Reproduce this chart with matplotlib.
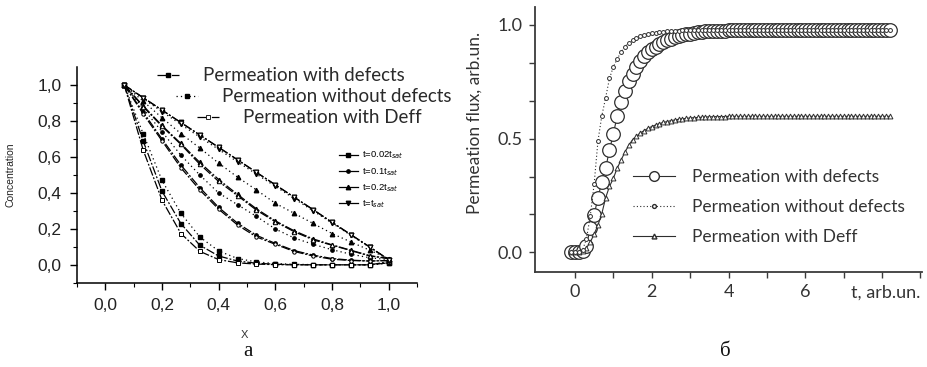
import matplotlib
matplotlib.use("Agg")
import matplotlib.pyplot as plt
from matplotlib.lines import Line2D
from matplotlib.legend import Legend

# ---------------- Left panel data (concentration profiles) ----------------
x_pos = [0.0667, 0.1333, 0.2, 0.2667, 0.3333, 0.4, 0.4667, 0.5333, 0.6, 0.6667,
         0.7333, 0.8, 0.8667, 0.9333, 1.0]

c002_def = [1.0, 0.69, 0.41, 0.23, 0.11, 0.05, 0.022, 0.010, 0.004, 0.002, 0.001, 0.001, 0.001, 0.001, 0.012]
c002_wo = [1.0, 0.73, 0.47, 0.287, 0.156, 0.078, 0.036, 0.017, 0.008, 0.004, 0.002, 0.001, 0.001, 0.001, 0.010]
c002_deff = [1.0, 0.64, 0.36, 0.175, 0.076, 0.030, 0.012, 0.005, 0.002, 0.001, 0.001, 0.001, 0.001, 0.001, 0.018]

c01_def = [1.0, 0.85, 0.70, 0.555, 0.43, 0.32, 0.232, 0.165, 0.12, 0.08, 0.055, 0.036, 0.027, 0.022, 0.025]
c01_wo = [1.0, 0.87, 0.74, 0.61, 0.50, 0.40, 0.335, 0.27, 0.20, 0.15, 0.115, 0.085, 0.06, 0.04, 0.03]
c01_deff = [1.0, 0.84, 0.69, 0.54, 0.417, 0.31, 0.222, 0.156, 0.115, 0.075, 0.05, 0.032, 0.025, 0.022, 0.025]

c02_def = [1.0, 0.885, 0.775, 0.675, 0.57, 0.475, 0.392, 0.312, 0.245, 0.19, 0.145, 0.112, 0.082, 0.052, 0.036]
c02_wo = [1.0, 0.91, 0.818, 0.73, 0.65, 0.566, 0.488, 0.417, 0.343, 0.287, 0.231, 0.175, 0.128, 0.082, 0.035]
c02_deff = [1.0, 0.88, 0.77, 0.67, 0.56, 0.464, 0.385, 0.305, 0.24, 0.185, 0.14, 0.11, 0.08, 0.05, 0.036]

csat_def = [1.0, 0.93, 0.861, 0.792, 0.723, 0.654, 0.585, 0.515, 0.446, 0.377, 0.308, 0.238, 0.169, 0.10, 0.03]
csat_wo = [1.0, 0.925, 0.852, 0.781, 0.711, 0.642, 0.573, 0.505, 0.437, 0.369, 0.301, 0.233, 0.165, 0.098, 0.03]
csat_deff = [1.0, 0.93, 0.860, 0.791, 0.722, 0.653, 0.584, 0.514, 0.445, 0.376, 0.307, 0.237, 0.168, 0.10, 0.03]

x_ticks = [0.0, 0.2, 0.4, 0.6, 0.8, 1.0]
x_ticklabels = ["0,0", "0,2", "0,4", "0,6", "0,8", "1,0"]
y_ticks = [0.0, 0.2, 0.4, 0.6, 0.8, 1.0]
y_ticklabels = ["0,0", "0,2", "0,4", "0,6", "0,8", "1,0"]
time_labels = ["t=0.02t$_{sat}$", "t=0.1t$_{sat}$", "t=0.2t$_{sat}$", "t=t$_{sat}$"]
type_labels = ["Permeation with defects", "Permeation without defects", "Permeation with Deff"]

# ---------------- Right panel data (permeation flux) ----------------
t_vals = [-0.1, 0.0, 0.1, 0.2, 0.3, 0.4, 0.5, 0.6, 0.7, 0.8, 0.9,
          1.0, 1.1, 1.2, 1.3, 1.4, 1.5, 1.6, 1.7, 1.8, 1.9,
          2.0, 2.1, 2.2, 2.3, 2.4, 2.5, 2.6, 2.7, 2.8, 2.9,
          3.0, 3.1, 3.2, 3.3, 3.4, 3.5, 3.6, 3.7, 3.8, 3.9,
          4.0, 4.1, 4.2, 4.3, 4.4, 4.5, 4.6, 4.7, 4.8, 4.9,
          5.0, 5.1, 5.2, 5.3, 5.4, 5.5, 5.6, 5.7, 5.8, 5.9,
          6.0, 6.1, 6.2, 6.3, 6.4, 6.5, 6.6, 6.7, 6.8, 6.9,
          7.0, 7.1, 7.2, 7.3, 7.4, 7.5, 7.6, 7.7, 7.8, 7.9,
          8.0, 8.1, 8.2]

flux_def = [0.0, 0.0, 0.0, 0.005, 0.03, 0.105, 0.165, 0.24, 0.31, 0.37, 0.45,
            0.52, 0.60, 0.66, 0.71, 0.755, 0.785, 0.815, 0.84, 0.865, 0.88,
            0.895, 0.905, 0.915, 0.925, 0.935, 0.94, 0.945, 0.95, 0.955, 0.958,
            0.962, 0.965, 0.967, 0.969, 0.971, 0.972, 0.973, 0.974, 0.975, 0.975,
            0.976, 0.976, 0.977, 0.977, 0.977, 0.977, 0.977, 0.977, 0.977, 0.977,
            0.977, 0.977, 0.977, 0.977, 0.977, 0.977, 0.977, 0.977, 0.977, 0.977,
            0.977, 0.977, 0.977, 0.977, 0.977, 0.977, 0.977, 0.977, 0.977, 0.977,
            0.977, 0.977, 0.977, 0.977, 0.977, 0.977, 0.977, 0.977, 0.977, 0.977,
            0.977, 0.977, 0.977]

flux_wo = [0.0, 0.0, 0.0, 0.01, 0.06, 0.16, 0.30, 0.49, 0.60, 0.68, 0.765,
           0.815, 0.85, 0.88, 0.905, 0.92, 0.932, 0.942, 0.95, 0.955, 0.96,
           0.963, 0.966, 0.968, 0.97, 0.972, 0.973, 0.974, 0.975, 0.976, 0.976,
           0.977, 0.977, 0.977, 0.977, 0.977, 0.977, 0.977, 0.977, 0.977, 0.977,
           0.977, 0.977, 0.977, 0.977, 0.977, 0.977, 0.977, 0.977, 0.977, 0.977,
           0.977, 0.977, 0.977, 0.977, 0.977, 0.977, 0.977, 0.977, 0.977, 0.977,
           0.977, 0.977, 0.977, 0.977, 0.977, 0.977, 0.977, 0.977, 0.977, 0.977,
           0.977, 0.977, 0.977, 0.977, 0.977, 0.977, 0.977, 0.977, 0.977, 0.977,
           0.977, 0.977, 0.977]

flux_deff = [0.0, 0.0, 0.0, 0.005, 0.02, 0.045, 0.08, 0.12, 0.17, 0.24, 0.29,
             0.325, 0.37, 0.405, 0.44, 0.47, 0.495, 0.51, 0.525, 0.535, 0.545,
             0.553, 0.56, 0.566, 0.571, 0.575, 0.579, 0.582, 0.585, 0.587, 0.589,
             0.591, 0.592, 0.593, 0.594, 0.595, 0.596, 0.596, 0.597, 0.597, 0.597,
             0.598, 0.598, 0.598, 0.598, 0.598, 0.598, 0.598, 0.598, 0.598, 0.598,
             0.598, 0.598, 0.598, 0.598, 0.598, 0.598, 0.598, 0.598, 0.598, 0.598,
             0.598, 0.598, 0.598, 0.598, 0.598, 0.598, 0.598, 0.598, 0.598, 0.598,
             0.598, 0.598, 0.598, 0.598, 0.598, 0.598, 0.598, 0.598, 0.598, 0.598,
             0.598, 0.598, 0.598]

r_xticks = [0, 1, 2, 3, 4, 5, 6, 7, 8, 9]
r_xticklabels = ["0", "", "2", "", "4", "", "6", "", "", ""]
r_yticks = [0.0, 1/6, 2/6, 0.5, 4/6, 5/6, 1.0]
r_yticklabels = ["0.0", "", "", "0.5", "", "", "1.0"]
right_labels = ["Permeation with defects", "Permeation without defects", "Permeation with Deff"]

# ---------------- Figure ----------------
W, H = 928, 367
fig = plt.figure(figsize=(W / 100, H / 100), dpi=100)
fig.patch.set_facecolor("white")

SANS = "Liberation Sans"
CAL = "Lato"

# ===== Left panel =====
axL = fig.add_axes([77 / W, 1 - 283 / H, 340 / W, 216 / H])
axL.set_xlim(-0.1, 1.1)
axL.set_ylim(-0.1, 1.1)
for s in ["top", "right"]:
    axL.spines[s].set_visible(False)
for s in ["left", "bottom"]:
    axL.spines[s].set_linewidth(1.1)

dashdot = (0, (7, 1.5, 1.5, 1.5))
dotted = (0, (1, 2.5))
markers = ["s", "o", "^", "v"]
groups = [(c002_def, c002_wo, c002_deff),
          (c01_def, c01_wo, c01_deff),
          (c02_def, c02_wo, c02_deff),
          (csat_def, csat_wo, csat_deff)]
for m, (cd, cw, ce) in zip(markers, groups):
    ms = 3.2 if m != "o" else 2.4
    axL.plot(x_pos, cd, linestyle=dashdot, color="black", lw=0.9,
             marker=m, ms=ms, mfc="black", mec="black")
    axL.plot(x_pos, cw, linestyle=dotted, color="black", lw=0.9,
             marker=m, ms=ms, mfc="black", mec="black")
    axL.plot(x_pos, ce, linestyle=dashdot, color="black", lw=0.9,
             marker=m, ms=ms, mfc="white", mec="black", mew=0.7)

axL.set_xticks(x_ticks)
axL.set_xticklabels(x_ticklabels, fontfamily=SANS, fontsize=12.5, color="#222")
axL.set_yticks(y_ticks)
axL.set_yticklabels(y_ticklabels, fontfamily=SANS, fontsize=12.5, color="#222")
axL.set_xticks([-0.1, 0.1, 0.3, 0.5, 0.7, 0.9, 1.1], minor=True)
axL.set_yticks([-0.1, 0.1, 0.3, 0.5, 0.7, 0.9], minor=True)
axL.tick_params(which="major", direction="out", length=5, width=1, pad=6)
axL.tick_params(which="minor", direction="out", length=3, width=0.8)

axL.set_ylabel("Concentration", fontfamily=SANS, fontsize=7.5, color="#222")
axL.yaxis.set_label_coords((15 - 77) / 340, 0.5)
axL.set_xlabel("X", fontfamily=SANS, fontsize=8, color="#333")
axL.xaxis.set_label_coords((244 - 77) / 340, -(330 - 283) / 216)

# time legend (small)
t_handles = [Line2D([], [], color="black", lw=0.9, marker=m, ms=3.2 if m != "o" else 2.4,
                    mfc="black", mec="black") for m in markers]
legT = Legend(axL, t_handles, time_labels, loc="upper left",
              bbox_to_anchor=((339 - 77) / 340, 1 - (150 - 67) / 216),
              frameon=False, prop={"family": SANS, "size": 6.8},
              handlelength=2.0, handletextpad=0.4, labelspacing=0.5,
              borderpad=0, borderaxespad=0)
axL.add_artist(legT)

# type legend rows (staggered like the original)
row_pos = [(157, 76), (176, 97), (197, 118)]
row_handles = [
    Line2D([], [], color="black", lw=0.9, linestyle=dashdot, marker="s", ms=2.5, mfc="black"),
    Line2D([], [], color="black", lw=0.9, linestyle=dotted, marker="s", ms=2.5, mfc="black"),
    Line2D([], [], color="black", lw=0.9, linestyle=dashdot, marker="s", ms=2.5, mfc="white", mew=0.6),
]
for (px, py), h, lab in zip(row_pos, row_handles, type_labels):
    lg = Legend(axL, [h], [lab], loc="center left",
                bbox_to_anchor=((px - 77) / 340, 1 - (py - 67) / 216),
                frameon=False, prop={"family": CAL, "size": 13.5},
                handlelength=1.15, handletextpad=1.3, borderpad=0, borderaxespad=0,
                labelcolor="#2a2a2a")
    axL.add_artist(lg)

fig.text(248 / W, 1 - 352 / H, "а", fontfamily="Liberation Serif", fontsize=15,
         ha="center", va="center", color="#111")

# ===== Right panel =====
axR = fig.add_axes([535 / W, 1 - 271.7 / H, 387 / W, 265 / H])
axR.set_xlim(-1.04, 9.04)
axR.set_ylim(-0.085, 1.08)
for s in ["top", "right"]:
    axR.spines[s].set_visible(False)
for s in ["left", "bottom"]:
    axR.spines[s].set_linewidth(1.3)
    axR.spines[s].set_color("#3a3a3a")

gc = "#2e2e2e"
axR.plot(t_vals, flux_def, color=gc, lw=0.8, marker="o", ms=9.8, mfc="white",
         mec=gc, mew=0.9, zorder=2)
axR.plot(t_vals, flux_deff, color=gc, lw=0.8, marker="^", ms=3.5, mfc="white",
         mec=gc, mew=0.7, zorder=3)
axR.plot(t_vals, flux_wo, color=gc, lw=0.8, linestyle=(0, (1, 2)), marker="o", ms=2.8,
         mfc="white", mec=gc, mew=0.7, zorder=4)

axR.set_xticks(r_xticks)
axR.set_xticklabels(r_xticklabels, fontfamily=CAL, fontsize=13, color="#333")
axR.set_yticks(r_yticks)
axR.set_yticklabels(r_yticklabels, fontfamily=CAL, fontsize=13, color="#333")
axR.tick_params(direction="out", length=4, width=1, color="#3a3a3a", pad=5)

axR.set_ylabel("Permeation flux, arb.un.", fontfamily=CAL, fontsize=12.5, color="#333")
axR.yaxis.set_label_coords((483 - 535) / 387, 1 - (123 - 6.7) / 265)
fig.text(886 / W, 1 - 293 / H, "t, arb.un.", fontfamily=CAL, fontsize=13,
         ha="center", va="center", color="#333")

r_handles = [
    Line2D([], [], color=gc, lw=0.8, marker="o", ms=7, mfc="white", mec=gc),
    Line2D([], [], color=gc, lw=0.8, linestyle=(0, (1, 2)), marker="o", ms=2.8, mfc="white", mec=gc),
    Line2D([], [], color=gc, lw=0.8, marker="^", ms=3.5, mfc="white", mec=gc),
]
legR = axR.legend(r_handles, right_labels, loc="upper left",
                  bbox_to_anchor=((633 - 535) / 387, 1 - (169 - 6.7) / 265),
                  frameon=False, prop={"family": CAL, "size": 12.5},
                  handlelength=2.4, handletextpad=1.0, labelspacing=0.8,
                  borderpad=0, borderaxespad=0, labelcolor="#333")

fig.text(725 / W, 1 - 352 / H, "б", fontfamily="Liberation Serif", fontsize=15,
         ha="center", va="center", color="#111")

fig.savefig("out.png", dpi=100)
